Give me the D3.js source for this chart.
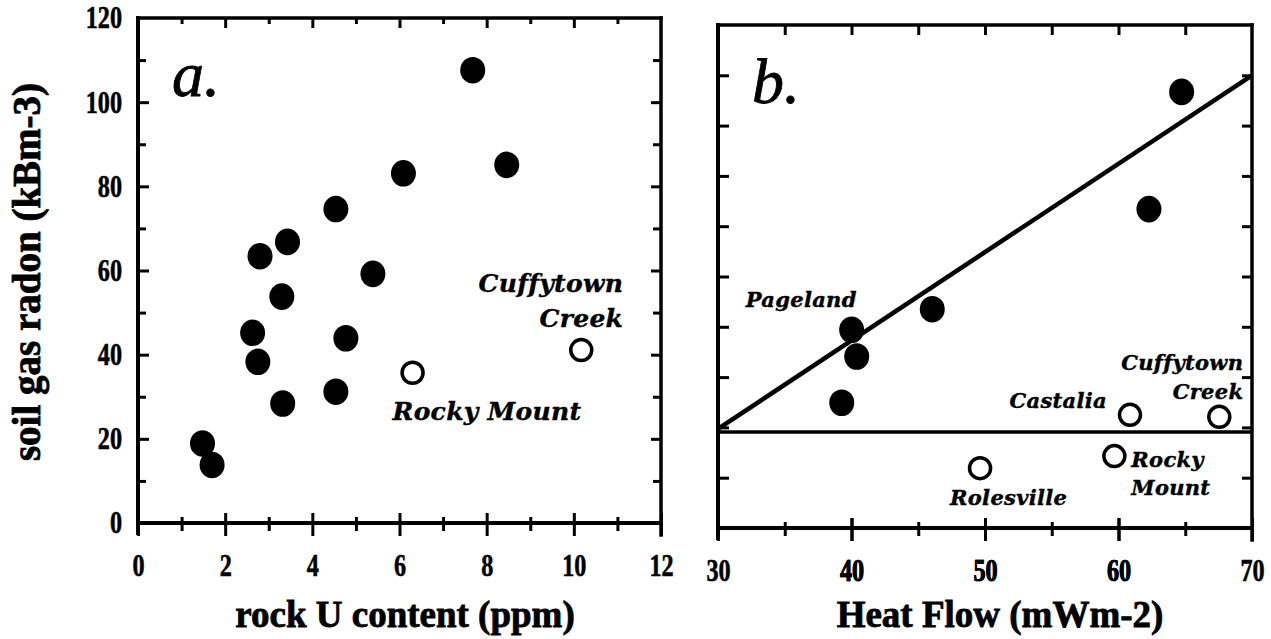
<!DOCTYPE html>
<html>
<head>
<meta charset="utf-8">
<script src="https://cdn.jsdelivr.net/npm/d3@7"></script>
<style>
  body { margin: 0; background: #fff; }
  svg { display: block; background: #fff; }
</style>
</head>
<body>
<svg width="1271" height="639"></svg>
<script>
// ---- panel a: rock U content (ppm) vs soil gas radon (kBm-3) ----
const uFilled  = [1.48, 1.70, 2.63, 2.75, 2.80, 3.30, 3.32, 3.43, 4.54, 4.54, 4.77, 5.39, 6.09, 7.68, 8.46];
const rnFilled = [18.9, 13.8, 45.2, 38.3, 63.4, 53.8, 28.4, 66.8, 74.6, 31.2, 43.9, 59.2, 83.1, 107.6, 85.1];
const uOpen  = [6.30, 10.17];
const rnOpen = [35.7, 41.1];
const openNamesA = ["Rocky Mount", "Cuffytown Creek"];
const xTicksA = [0, 2, 4, 6, 8, 10, 12];
const yTicksA = [0, 20, 40, 60, 80, 100, 120];

// ---- panel b: heat flow (mWm-2), y axis unlabelled (0-10) ----
const hfFilled = [39.27, 40.01, 40.39, 46.05, 62.28, 64.73];
const bFilled  = [2.49, 3.94, 3.41, 4.35, 6.34, 8.67];
const filledNamesB = ["", "Pageland", "", "", "", ""];
const hfOpen = [49.63, 59.69, 60.86, 67.55];
const bOpen  = [1.19, 1.43, 2.25, 2.21];
const openNamesB = ["Rolesville", "Rocky Mount", "Castalia", "Cuffytown Creek"];
const fitLine  = [[30, 1.97], [70, 9.0]];
const baseLine = [[30, 1.91], [70, 1.91]];
const xTicksB = [30, 40, 50, 60, 70];

const svg = d3.select("svg");
svg.append("rect").attr("width", 1271).attr("height", 639).attr("fill", "#fff");

const serif = "'DejaVu Serif', serif";
const times = "'Liberation Serif', 'Times New Roman', serif";

// scales
const xA = d3.scaleLinear().domain([0, 12]).range([138, 661]);
const yA = d3.scaleLinear().domain([0, 120]).range([523, 18]);
const xB = d3.scaleLinear().domain([30, 70]).range([718, 1252]);
const yB = d3.scaleLinear().domain([0, 10]).range([528, 25]);

function styleAxis(g) {
    g.select(".domain").remove();
    g.selectAll(".tick line").attr("stroke", "#000").attr("stroke-width", 3);
    g.selectAll(".tick text")
        .attr("font-family", times)
        .attr("font-weight", "bold")
        .attr("font-size", 31)
        .attr("fill", "#000")
        .attr("stroke", "#000").attr("stroke-width", 0.6)
        .attr("transform", "scale(0.78,1)");
}

// ticks that cross the bottom axis
function crossTicks(g, majorEvery) {
    g.selectAll(".tick line")
        .attr("y1", function(d) { return d % majorEvery === 0 ? -10 : -6; })
        .attr("y2", function(d) { return d % majorEvery === 0 ? 13 : 8; });
}

function drawFrame(x, y, o) {
    const g = svg.append("g");
    const x0 = x.range()[0], x1 = x.range()[1];
    const y0 = y.range()[0], y1 = y.range()[1];

    // bottom axis with labels
    g.append("g").attr("transform", "translate(0," + y0 + ")")
        .call(d3.axisBottom(x).tickValues(o.bottomTicks).tickSizeOuter(0).tickSize(11).tickPadding(20)
            .tickFormat(function(d) { return o.bottomLabels.includes(d) ? d : ""; }))
        .call(styleAxis)
        .call(crossTicks, o.bottomMajor);

    // left axis (inner ticks)
    g.append("g").attr("transform", "translate(" + x0 + ",0)")
        .call(d3.axisLeft(y).tickValues(o.leftTicks).tickSizeOuter(0).tickSizeInner(-11).tickFormat(""))
        .call(styleAxis)
        .call(function(s) {
            s.selectAll(".tick line").attr("x2", function(d) { return d % o.leftMajor === 0 ? 11 : 8; });
        });

    // top frame ticks
    g.append("g").attr("transform", "translate(0," + y1 + ")")
        .call(d3.axisTop(x).tickValues(o.topTicks).tickSizeOuter(0).tickFormat(""))
        .call(styleAxis)
        .call(function(s) {
            s.selectAll(".tick line").attr("y2", function(d) { return d % o.topMajor === 0 ? 10 : 6; });
        });

    // right frame ticks
    g.append("g").attr("transform", "translate(" + x1 + ",0)")
        .call(d3.axisRight(y).tickValues(o.leftTicks).tickSizeOuter(0).tickFormat(""))
        .call(styleAxis)
        .call(function(s) {
            s.selectAll(".tick line").attr("x2", function(d) { return d % o.leftMajor === 0 ? -10 : -8; });
        });

    // frame lines
    const fr = g.append("g").attr("stroke", "#000").attr("stroke-linecap", "square");
    fr.append("line").attr("x1", x0).attr("x2", x0).attr("y1", y1).attr("y2", y0 + 10).attr("stroke-width", 4);
    fr.append("line").attr("x1", x0).attr("x2", x1).attr("y1", y0).attr("y2", y0).attr("stroke-width", 4);
    fr.append("line").attr("x1", x0).attr("x2", x1).attr("y1", y1).attr("y2", y1).attr("stroke-width", 3.5);
    fr.append("line").attr("x1", x1).attr("x2", x1).attr("y1", y1).attr("y2", y0 + 12).attr("stroke-width", 3.5);

    // panel letter
    g.append("text")
        .attr("x", x0 + 34).attr("y", y1 + 78)
        .attr("font-family", times)
        .attr("font-style", "italic")
        .attr("font-size", 64)
        .attr("stroke", "#000").attr("stroke-width", 0.8)
        .text(o.letter);
    return g;
}

drawFrame(xA, yA, {
    bottomTicks: d3.range(0, 13), bottomLabels: xTicksA, bottomMajor: 2,
    leftTicks: d3.range(10, 120, 10), leftMajor: 20,
    topTicks: d3.range(1, 12), topMajor: 2,
    letter: "a."
});
drawFrame(xB, yB, {
    bottomTicks: d3.range(35, 70, 5).concat(xTicksB), bottomLabels: xTicksB, bottomMajor: 10,
    leftTicks: d3.range(1, 10), leftMajor: 1,
    topTicks: d3.range(35, 70, 5), topMajor: 5,
    letter: "b."
});

// y tick labels on panel a
svg.append("g").attr("transform", "translate(" + xA.range()[0] + ",0)")
    .call(d3.axisLeft(yA).tickValues(yTicksA).tickSize(0).tickPadding(20.5))
    .call(styleAxis);

// lines on panel b
const line = d3.line().x(function(d) { return xB(d[0]); }).y(function(d) { return yB(d[1]); });
svg.append("path").datum(baseLine).attr("d", line)
    .attr("fill", "none").attr("stroke", "#000").attr("stroke-width", 3.5);
svg.append("path").datum(fitLine).attr("d", line)
    .attr("fill", "none").attr("stroke", "#000").attr("stroke-width", 4.5);

// points
function filledDots(xs, ys, x, y) {
    svg.append("g").selectAll("ellipse")
        .data(xs.map(function(v, i) { return [v, ys[i]]; }))
        .enter().append("ellipse")
        .attr("cx", function(d) { return x(d[0]); })
        .attr("cy", function(d) { return y(d[1]); })
        .attr("rx", 12.5).attr("ry", 13.3)
        .attr("fill", "#000");
}
function openDots(xs, ys, x, y) {
    svg.append("g").selectAll("circle")
        .data(xs.map(function(v, i) { return [v, ys[i]]; }))
        .enter().append("circle")
        .attr("cx", function(d) { return x(d[0]); })
        .attr("cy", function(d) { return y(d[1]); })
        .attr("r", 10.5)
        .attr("fill", "#fff").attr("stroke", "#000").attr("stroke-width", 3.5);
}
filledDots(uFilled, rnFilled, xA, yA);
openDots(uOpen, rnOpen, xA, yA);
filledDots(hfFilled, bFilled, xB, yB);
openDots(hfOpen, bOpen, xB, yB);

// site labels: offsets from the point, in pixels
const labelPlaceA = {
    "Rocky Mount":     { dx: -20, dy: 47, anchor: "start", lines: ["Rocky Mount"], lh: 0 },
    "Cuffytown Creek": { dx: 42, dy: -58, anchor: "end", lines: ["Cuffytown", "Creek"], lh: 35 }
};
const labelPlaceB = {
    "Pageland":        { dx: 5, dy: -23, anchor: "end", lines: ["Pageland"], lh: 0 },
    "Rolesville":      { dx: -30, dy: 37, anchor: "start", lines: ["Rolesville"], lh: 0 },
    "Rocky Mount":     { dx: 17, dy: 11, anchor: "start", lines: ["Rocky", "Mount"], lh: 28 },
    "Castalia":        { dx: -23, dy: -7, anchor: "end", lines: ["Castalia"], lh: 0 },
    "Cuffytown Creek": { dx: 24, dy: -47, anchor: "end", lines: ["Cuffytown", "Creek"], lh: 29 }
};

function siteLabels(names, xs, ys, x, y, place, size, spacing) {
    names.forEach(function(n, i) {
        if (!n) return;
        const p = place[n];
        p.lines.forEach(function(t, k) {
            svg.append("text")
                .attr("x", x(xs[i]) + p.dx)
                .attr("y", y(ys[i]) + p.dy + k * p.lh)
                .attr("text-anchor", p.anchor)
                .attr("font-family", serif)
                .attr("font-weight", "bold")
                .attr("font-style", "italic")
                .attr("font-size", size)
                .attr("letter-spacing", spacing)
                .attr("stroke", "#000").attr("stroke-width", 0.4)
                .text(t);
        });
    });
}
siteLabels(openNamesA, uOpen, rnOpen, xA, yA, labelPlaceA, 25, 0.3);
siteLabels(filledNamesB, hfFilled, bFilled, xB, yB, labelPlaceB, 21, 0.3);
siteLabels(openNamesB, hfOpen, bOpen, xB, yB, labelPlaceB, 21, 0.3);

// axis titles
function title(x, y, txt, size, rot) {
    svg.append("text")
        .attr("transform", "translate(" + x + "," + y + ")" + (rot ? " rotate(-90)" : ""))
        .attr("text-anchor", "middle")
        .attr("font-family", times)
        .attr("font-weight", "bold")
        .attr("font-size", size)
        .attr("stroke", "#000").attr("stroke-width", 0.8)
        .text(txt);
}
title(405, 627, "rock U content (ppm)", 37);
title(1000, 627, "Heat Flow (mWm-2)", 37);
title(40, 272, "soil gas radon (kBm-3)", 39, true);
</script>
</body>
</html>
